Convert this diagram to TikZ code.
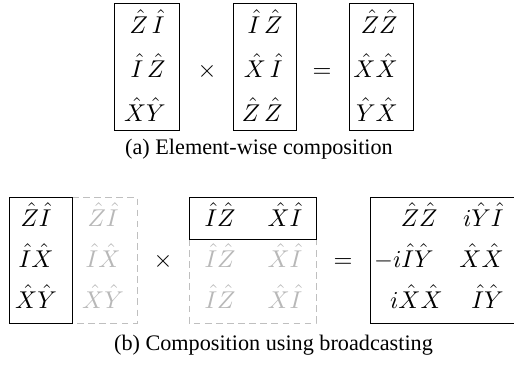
\documentclass[tikz,border=0pt]{standalone}
\usepackage{fontspec}
\setmainfont{Liberation Serif}
\begin{document}
\begin{tikzpicture}[x=0.4505pt,y=-0.4505pt,
  box/.style={draw=black, line width=0.45pt},
  ghost/.style={draw=black!25, dash pattern=on 3pt off 2pt, line width=0.45pt},
  ent/.style={inner sep=0pt, anchor=base east, font=\fontsize{10.8}{13}\selectfont},
  cent/.style={inner sep=0pt, anchor=base, font=\fontsize{10.8}{13}\selectfont},
  gent/.style={cent, text=black!28},
  op/.style={inner sep=0pt, anchor=base, font=\fontsize{10.8}{13}\selectfont},
  capt/.style={inner sep=0pt, anchor=base}]
\useasboundingbox (0,0) rectangle (514,364);

% ---------- (a) ----------
\draw[box] (114,3) rectangle (179,130);
\draw[box] (233,3) rectangle (296,130);
\draw[box] (349,3) rectangle (413,130);

\node[ent] (a11) at (165,33)  {$\hat{Z}\,\hat{I}$};
\node[ent] (a12) at (166,77)  {$\hat{I}\,\hat{Z}$};
\node[ent] (a13) at (166,121) {$\hat{X}\hat{Y}$};

\node[ent] (a21) at (283,33)  {$\hat{I}\,\hat{Z}$};
\node[ent] (a22) at (283,77)  {$\hat{X}\,\hat{I}$};
\node[ent] (a23) at (283,121) {$\hat{Z}\,\hat{Z}$};

\node[ent] (a31) at (398,33)  {$\hat{Z}\hat{Z}$};
\node[ent] (a32) at (398,77)  {$\hat{X}\hat{X}$};
\node[ent] (a33) at (398,121) {$\hat{Y}\hat{X}$};

\node[op] (atimes) at (207,77) {$\times$};
\node[op] (aeq)    at (322,77) {$=$};

\node[capt] (capa) at (259,154) {(a) Element-wise composition};

% ---------- (b) ----------
\draw[ghost] (72,197) -- (137,197) -- (137,323) -- (72,323);
\draw[ghost] (189,239) -- (189,323) -- (316,323) -- (316,239);
\draw[box] (9,197) rectangle (72,323);
\draw[box] (189,197) rectangle (316,239);
\draw[box] (514,197) -- (370,197) -- (370,323) -- (514,323);

\node[cent] (b11) at (36,226) {$\hat{Z}\hat{I}$};
\node[cent] (b12) at (36,267) {$\hat{I}\hat{X}$};
\node[cent] (b13) at (36,308) {$\hat{X}\hat{Y}$};

\node[gent] (g11) at (103,226) {$\hat{Z}\hat{I}$};
\node[gent] (g12) at (103,267) {$\hat{I}\hat{X}$};
\node[gent] (g13) at (103,308) {$\hat{X}\hat{Y}$};

\node[cent] (t1) at (220,226) {$\hat{I}\hat{Z}$};
\node[cent] (t2) at (285,226) {$\hat{X}\hat{I}$};
\node[gent] (h11) at (220,267) {$\hat{I}\hat{Z}$};
\node[gent] (h12) at (285,267) {$\hat{X}\hat{I}$};
\node[gent] (h21) at (220,308) {$\hat{I}\hat{Z}$};
\node[gent] (h22) at (285,308) {$\hat{X}\hat{I}$};

\node[ent] (r11) at (438,226) {$\hat{Z}\hat{Z}$};
\node[ent] (r21) at (434,267) {$-i\hat{I}\hat{Y}$};
\node[ent] (r31) at (443,308) {$i\hat{X}\hat{X}$};
\node[ent] (r12) at (504,226) {$i\hat{Y}\hat{I}$};
\node[ent] (r22) at (504,267) {$\hat{X}\hat{X}$};
\node[ent] (r32) at (504,308) {$\hat{I}\hat{Y}$};

\node[op] (btimes) at (163,267) {$\times$};
\node[op] (beq)    at (343,267) {$=$};

\node[capt] (capb) at (273.5,350) {(b) Composition using broadcasting};
\end{tikzpicture}
\end{document}
